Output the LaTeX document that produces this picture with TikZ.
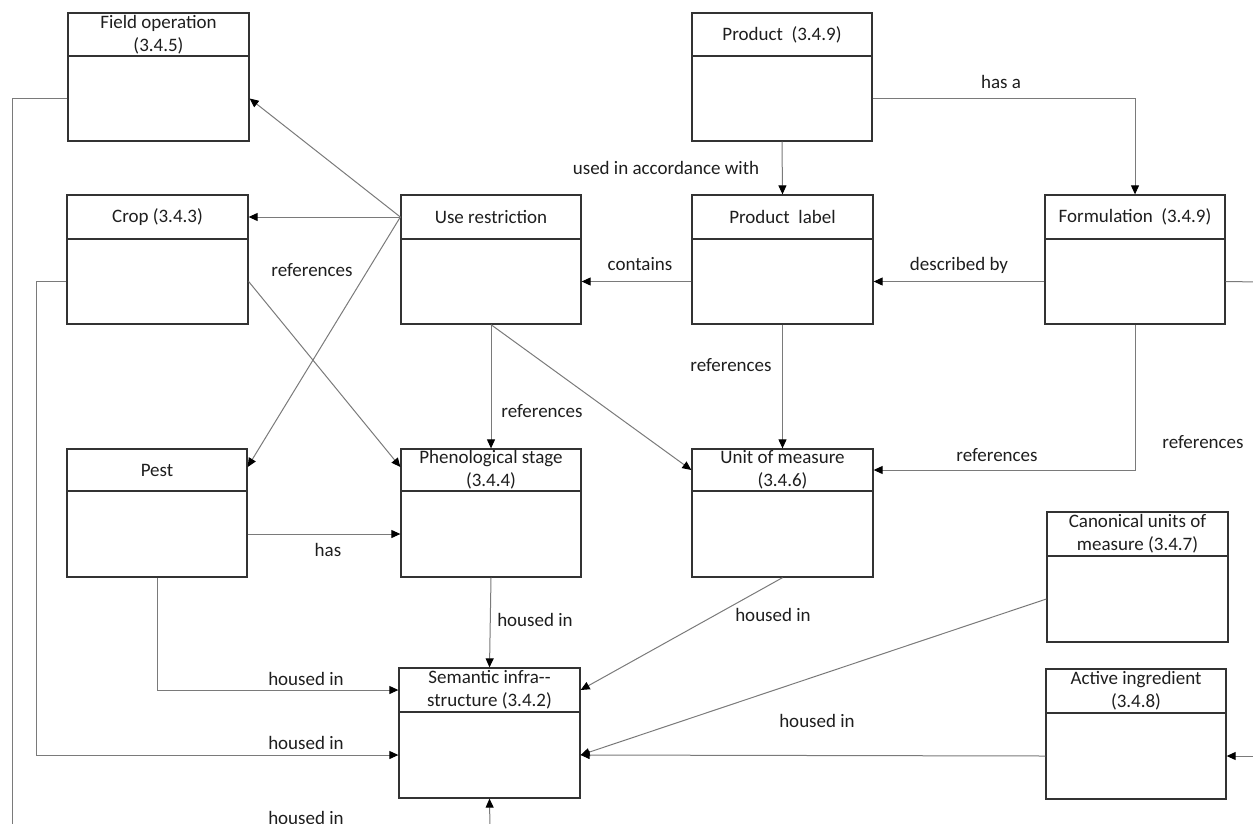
\documentclass[tikz,border=0pt]{standalone}
\usepackage{fontspec}
\setmainfont{Carlito}
\usetikzlibrary{arrows.meta}
\definecolor{boxc}{HTML}{333333}
\definecolor{linec}{HTML}{7A7A7A}
\definecolor{txtc}{HTML}{1E1E1E}
\begin{document}
\begin{tikzpicture}[x=1pt,y=-1pt,
  box/.style={draw=boxc, line width=1.3pt, inner sep=0pt},
  divider/.style={draw=boxc, line width=1.3pt},
  ttl/.style={font=\fontsize{19}{23}\selectfont, text=txtc, align=center, inner sep=0pt},
  lbl/.style={font=\fontsize{19}{23}\selectfont, text=txtc, inner sep=0pt},
  conn/.style={draw=linec, line width=1pt},
  arr/.style={-{Triangle[length=9pt,width=8pt,color=black]}}]
\useasboundingbox (0,0) rectangle (1253,823);

\newcommand\umlbox[7]{%
  \pgfmathsetmacro\bw{#4-#2}\pgfmathsetmacro\bh{#5-#3}%
  \pgfmathsetmacro\cx{(#2+#4)/2}\pgfmathsetmacro\cy{(#3+#5)/2}%
  \pgfmathsetmacro\ty{(#3+#6)/2}\pgfmathsetmacro\by{(#6+#5)/2}%
  \node[box, minimum width=\bw pt, minimum height=\bh pt] (#1) at (\cx,\cy) {};
  \draw[divider] (#2,#6) -- (#4,#6);
  \node[ttl] (#1-title) at (\cx,\ty) {#7};
  \coordinate (#1-t) at (\cx,\ty);
  \coordinate (#1-b) at (\cx,\by);
}

\umlbox{fo}{68}{13}{249}{141}{56}{Field operation\\(3.4.5)}
\umlbox{crop}{67}{195}{248}{324}{239}{Crop (3.4.3)}
\umlbox{ur}{401}{195}{581}{324}{239}{Use restriction}
\umlbox{prod}{692}{13}{872}{141}{56}{Product\ \ (3.4.9)}
\umlbox{pl}{692}{195}{873}{324}{239}{Product\ \ label}
\umlbox{form}{1045}{195}{1225}{324}{239}{Formulation\ \ (3.4.9)}
\umlbox{pest}{67}{449}{247}{577}{491}{Pest}
\umlbox{phen}{401}{449}{581}{577}{491}{Phenological stage\\(3.4.4)}
\umlbox{uom}{692}{449}{873}{577}{491}{Unit of measure\\(3.4.6)}
\umlbox{can}{1047}{512}{1228}{642}{556}{Canonical units of\\measure (3.4.7)}
\umlbox{sem}{399}{668}{580}{798}{712}{Semantic infra-{}-\\structure (3.4.2)}
\umlbox{ai}{1046}{669}{1226}{799}{713}{Active ingredient\\(3.4.8)}

\coordinate (foend) at (12,830);
\coordinate (formend) at (1260,282);
\coordinate (aistart) at (1260,756);
\coordinate (semstart) at (490,830);

% connectors
\draw[conn] (fo-b -| fo.west) -| (foend);
\draw[conn,arr] (crop-b -| crop.west) -- ++(-30,0) |- (sem-b -| sem.west);
\draw[conn,arr] (ur-t -| ur.west) -- (fo-b -| fo.east);
\draw[conn,arr] (ur-t -| ur.west) -- (crop-t -| crop.east);
\draw[conn,arr] (ur-t -| ur.west) -- ([yshift=3pt]pest-t -| pest.east);
\draw[conn,arr] (crop-b -| crop.east) -- ([yshift=3pt]phen-t -| phen.west);
\draw[conn,arr] (prod.south) -- (pl.north);
\draw[conn,arr] (prod-b -| prod.east) -| (form.north);
\draw[conn,arr] (pl-b -| pl.west) -- (pl-b -| ur.east);
\draw[conn,arr] (form-b -| form.west) -- (form-b -| pl.east);
\draw[conn] (form-b -| form.east) -- (formend);
\draw[conn,arr] (pl.south) -- (uom.north);
\draw[conn,arr] (form.south) |- (uom-t -| uom.east);
\draw[conn,arr] (ur.south) -- (phen.north);
\draw[conn,arr] (ur.south) -- (uom-t -| uom.west);
\draw[conn,arr] (pest-b -| pest.east) -- (pest-b -| phen.west);
\draw[conn,arr] (pest.south) |- (sem-t -| sem.west);
\draw[conn,arr] (phen.south) -- (sem.north);
\draw[conn,arr] (uom.south) -- (sem-t -| sem.east);
\draw[conn,arr] (can-b -| can.west) -- (sem-b -| sem.east);
\draw[conn,arr] (ai-b -| ai.west) -- (sem-b -| sem.east);
\draw[conn,arr] (aistart) -- (ai-b -| ai.east);
\draw[conn,arr] (semstart) -- (sem.south);

% labels
\node[lbl] (l1) at (312,270) {references};
\node[lbl] (l2) at (666,168) {used in accordance with};
\node[lbl] (l3) at (1001,82) {has a};
\node[lbl] (l4) at (640,264) {contains};
\node[lbl] (l5) at (959,265) {described by};
\node[lbl] (l6) at (731,365) {references};
\node[lbl] (l7) at (542,411) {references};
\node[lbl] (l8) at (997,455) {references};
\node[lbl] (l9) at (1203,442) {references};
\node[lbl] (l10) at (328,550) {has};
\node[lbl] (l11) at (535,620) {housed in};
\node[lbl] (l12) at (773,615) {housed in};
\node[lbl] (l13) at (306,679) {housed in};
\node[lbl] (l14) at (306,743) {housed in};
\node[lbl] (l15) at (817,721) {housed in};
\node[lbl] (l16) at (306,818) {housed in};
\end{tikzpicture}
\end{document}
